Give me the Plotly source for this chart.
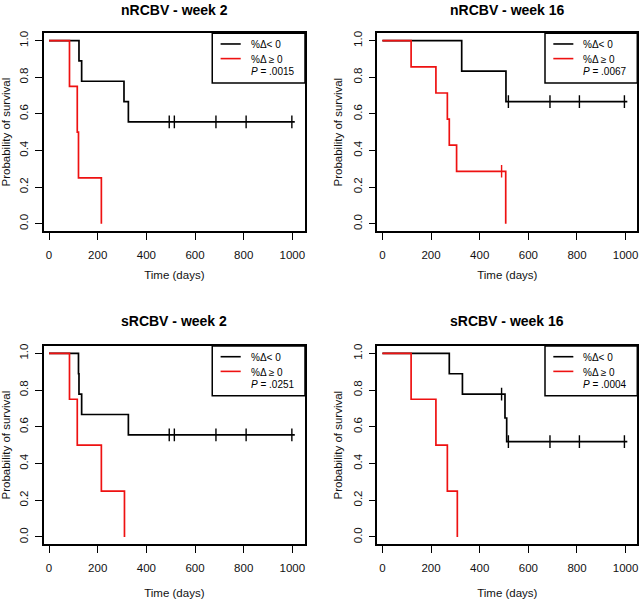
import plotly.graph_objects as go

# ---------------- data ----------------
titles = ["nRCBV - week 2", "nRCBV - week 16", "sRCBV - week 2", "sRCBV - week 16"]
p_values = ["P = .0015", "P = .0067", "P = .0251", "P = .0004"]
group_labels = ["%Δ< 0", "%Δ ≥ 0"]

# panel 1: nRCBV - week 2
p1_neg_times = [123, 134, 308, 326]
p1_neg_surv = [0.889, 0.778, 0.667, 0.556]
p1_neg_cens = [494, 515, 686, 810, 998]
p1_neg_end = 1010
p1_pos_times = [84, 116, 121, 215]
p1_pos_surv = [0.75, 0.5, 0.25, 0.0]
p1_pos_cens = []
p1_pos_end = 215

# panel 2: nRCBV - week 16
p2_neg_times = [326, 508]
p2_neg_surv = [0.833, 0.667]
p2_neg_cens = [518, 689, 810, 995]
p2_neg_end = 1007
p2_pos_times = [118, 220, 267, 275, 305, 507]
p2_pos_surv = [0.857, 0.714, 0.571, 0.429, 0.286, 0.0]
p2_pos_cens = [490]
p2_pos_end = 507

# panel 3: sRCBV - week 2
p3_neg_times = [121, 123, 134, 326]
p3_neg_surv = [0.889, 0.778, 0.667, 0.556]
p3_neg_cens = [494, 515, 686, 810, 998]
p3_neg_end = 1010
p3_pos_times = [84, 116, 215, 310]
p3_pos_surv = [0.75, 0.5, 0.25, 0.0]
p3_pos_cens = []
p3_pos_end = 310

# panel 4: sRCBV - week 16
p4_neg_times = [275, 329, 504, 511]
p4_neg_surv = [0.889, 0.778, 0.648, 0.519]
p4_neg_cens = [490, 518, 689, 810, 995]
p4_neg_end = 1007
p4_pos_times = [118, 220, 267, 308]
p4_pos_surv = [0.75, 0.5, 0.25, 0.0]
p4_pos_cens = []
p4_pos_end = 308

x_ticks = [0, 200, 400, 600, 800, 1000]
y_ticks = [0.0, 0.2, 0.4, 0.6, 0.8, 1.0]

panels = [
    (p1_neg_times, p1_neg_surv, p1_neg_cens, p1_neg_end, p1_pos_times, p1_pos_surv, p1_pos_cens, p1_pos_end),
    (p2_neg_times, p2_neg_surv, p2_neg_cens, p2_neg_end, p2_pos_times, p2_pos_surv, p2_pos_cens, p2_pos_end),
    (p3_neg_times, p3_neg_surv, p3_neg_cens, p3_neg_end, p3_pos_times, p3_pos_surv, p3_pos_cens, p3_pos_end),
    (p4_neg_times, p4_neg_surv, p4_neg_cens, p4_neg_end, p4_pos_times, p4_pos_surv, p4_pos_cens, p4_pos_end),
]

# ---------------- layout geometry ----------------
W, H = 640, 603
x_domains = [[43.7 / W, 305 / W], [377.3 / W, 637.3 / W]] * 2
y_domains = [[1 - 231 / H, 1 - 33.3 / H]] * 2 + [[1 - 544.3 / H, 1 - 346 / H]] * 2
x_ranges = [[-22, 1052], [-21, 1048], [-22, 1052], [-21, 1048]]
title_y = [1 - 10 / H, 1 - 10 / H, 1 - 320.7 / H, 1 - 320.7 / H]
xtitle_standoff = [11, 11, 16, 16]

BLACK = "#000000"
RED = "#ee1111"
FONT = "Liberation Sans, Arial, sans-serif"


def surv_at(t, times, surv):
    s = 1.0
    for ti, si in zip(times, surv):
        if ti <= t:
            s = si
    return s


fig = go.Figure()
for i, (nt, ns, nc, ne, pt, ps, pc, pe) in enumerate(panels):
    xa = "x" if i == 0 else f"x{i+1}"
    ya = "y" if i == 0 else f"y{i+1}"
    for times, surv, cens, end, color, name in [
        (nt, ns, nc, ne, BLACK, group_labels[0]),
        (pt, ps, pc, pe, RED, group_labels[1]),
    ]:
        fig.add_trace(go.Scatter(
            x=[0] + list(times) + [end], y=[1.0] + list(surv) + [surv[-1]],
            mode="lines", line=dict(color=color, width=1.7, shape="hv"),
            xaxis=xa, yaxis=ya, showlegend=False, name=name, hoverinfo="skip"))
        if cens:
            fig.add_trace(go.Scatter(
                x=list(cens), y=[surv_at(c, times, surv) for c in cens],
                mode="markers",
                marker=dict(symbol="line-ns", size=9, line=dict(color=color, width=1.4)),
                xaxis=xa, yaxis=ya, showlegend=False, name=name, hoverinfo="skip"))

axis_common = dict(showgrid=False, zeroline=False, showline=True, mirror=True,
                   linecolor=BLACK, linewidth=1.5, ticks="outside", ticklen=7,
                   tickwidth=1.3, tickcolor=BLACK,
                   tickfont=dict(family=FONT, size=11.5, color="#111111"))

layout = dict(width=W, height=H, margin=dict(l=0, r=0, t=0, b=0),
              paper_bgcolor="white", plot_bgcolor="white", showlegend=False)
annotations = []
shapes = []
for i in range(4):
    sfx = "" if i == 0 else str(i + 1)
    layout["xaxis" + sfx] = dict(
        axis_common, domain=x_domains[i], range=x_ranges[i], tickvals=x_ticks,
        anchor="y" + sfx, automargin=False, ticklabelstandoff=5,
        title=dict(text="Time (days)", font=dict(family=FONT, size=11.5, color="#111111"),
                   standoff=xtitle_standoff[i]))
    layout["yaxis" + sfx] = dict(
        axis_common, domain=y_domains[i], range=[-0.04, 1.04], tickvals=y_ticks,
        tickformat=".1f", tickangle=-90, anchor="x" + sfx, automargin=False,
        ticklabelstandoff=2,
        title=dict(text="Probability of survival",
                   font=dict(family=FONT, size=11.5, color="#111111"), standoff=7))
    xd = "x" + sfx + " domain"
    yd = "y" + sfx + " domain"
    # panel title
    annotations.append(dict(text="<b>" + titles[i] + "</b>", xref=xd, yref="paper",
                            x=0.5, y=title_y[i], xanchor="center", yanchor="middle",
                            showarrow=False, font=dict(family=FONT, size=14, color=BLACK)))
    # legend box
    shapes.append(dict(type="rect", xref=xd, yref=yd, x0=0.645, x1=1.0, y0=0.749, y1=1.0,
                       line=dict(color=BLACK, width=1.5), fillcolor="white"))
    shapes.append(dict(type="line", xref=xd, yref=yd, x0=0.677, x1=0.754, y0=0.946, y1=0.946,
                       line=dict(color=BLACK, width=1.6)))
    shapes.append(dict(type="line", xref=xd, yref=yd, x0=0.677, x1=0.754, y0=0.872, y1=0.872,
                       line=dict(color=RED, width=1.6)))
    for txt, yy in [(group_labels[0], 0.942), (group_labels[1], 0.868),
                    ("<i>P</i>" + p_values[i][1:], 0.806)]:
        annotations.append(dict(text=txt, xref=xd, yref=yd, x=0.785, y=yy,
                                xanchor="left", yanchor="middle", showarrow=False,
                                font=dict(family=FONT, size=10, color=BLACK)))

layout["annotations"] = annotations
layout["shapes"] = shapes
fig.update_layout(**layout)
fig.write_html("out.html", config={"displayModeBar": False},
               post_script="document.body.style.margin='0';document.body.style.padding='0';")
